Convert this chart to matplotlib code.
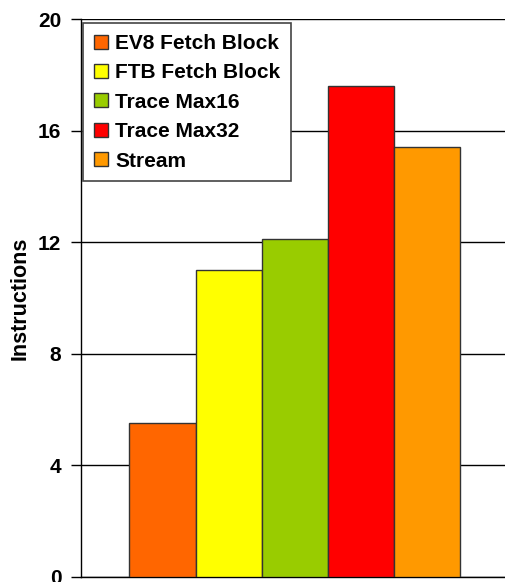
import matplotlib.pyplot as plt
import numpy as np
from matplotlib.patches import Patch

# Average instructions fetched per cycle, one bar per fetch architecture
labels = ["EV8 Fetch Block", "FTB Fetch Block", "Trace Max16", "Trace Max32", "Stream"]
values = [5.5, 11.0, 12.1, 17.6, 15.4]
colors = ["#FF6600", "#FFFF00", "#99CC00", "#FF0000", "#FF9900"]
yticks = [0, 4, 8, 12, 16, 20]

plt.rcParams["font.family"] = ["Liberation Sans", "DejaVu Sans"]
plt.rcParams["font.weight"] = "bold"

fig = plt.figure(figsize=(5.06, 5.82), dpi=100)
ax = fig.add_axes([0.1595, 0.0091, 0.8405, 0.958])

x = np.arange(len(values))
ax.bar(x, values, width=1.0, color=colors, edgecolor="#333333", linewidth=1.0, zorder=3)

ax.set_ylim(0, 20)
ax.set_xlim(-1.234, 5.19)
ax.set_yticks(yticks)
ax.set_yticklabels([str(t) for t in yticks], fontsize=15, fontweight="bold")
ax.set_xticks([])
ax.yaxis.grid(True, color="black", linewidth=1.0, zorder=0)
ax.set_axisbelow(True)
ax.tick_params(axis="y", length=7, width=1.0, pad=7, direction="out")

for side in ["top", "right"]:
    ax.spines[side].set_visible(False)
ax.spines["left"].set_linewidth(1.0)
ax.spines["bottom"].set_linewidth(1.0)

ax.set_ylabel("Instructions", fontsize=15.5, fontweight="bold")
ax.yaxis.set_label_coords(-0.118, 0.5)

handles = [Patch(facecolor=c, edgecolor="#333333", linewidth=1.0) for c in colors]
leg = ax.legend(
    handles,
    labels,
    loc="upper left",
    bbox_to_anchor=(0.006, 0.993),
    prop={"size": 15, "weight": "bold"},
    handlelength=0.65,
    handleheight=0.65,
    handletextpad=0.35,
    labelspacing=0.5,
    borderpad=0.52,
    borderaxespad=0.0,
    fancybox=False,
    framealpha=1.0,
)
leg.get_frame().set_edgecolor("#444444")
leg.get_frame().set_linewidth(1.2)
leg.set_zorder(5)

fig.savefig("out.png", dpi=100)
